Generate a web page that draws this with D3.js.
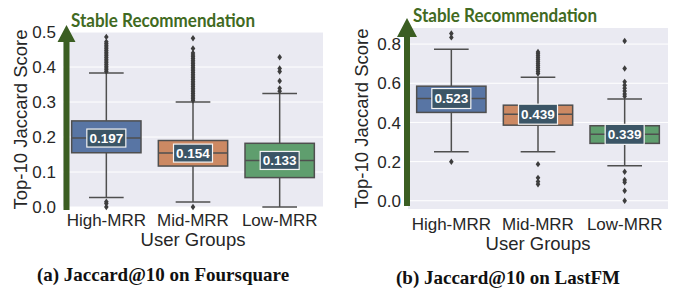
<!DOCTYPE html>
<html>
<head>
<meta charset="utf-8">
<script src="https://cdn.jsdelivr.net/npm/d3@7"></script>
<style>
  body { margin: 0; background: #fff; }
  svg text { font-family: "Liberation Sans", Arial, sans-serif; }
</style>
</head>
<body>
<svg id="chart" width="681" height="295"></svg>
<script>
// groups shared by both panels
const groups = ["High-MRR", "Mid-MRR", "Low-MRR"];
const boxColors = ["#5875a4", "#cc8963", "#5f9e6e"];

// Foursquare: [whiskerLow, q1, median, q3, whiskerHigh]
const fsqStats = [
  [0.027, 0.155, 0.197, 0.246, 0.383],
  [0.014, 0.117, 0.154, 0.190, 0.300],
  [0.0, 0.084, 0.133, 0.182, 0.324]
];
const fsqOutliers = [
  [0.0, 0.010, 0.015, 0.387, 0.392, 0.397, 0.402, 0.407, 0.412, 0.417, 0.422, 0.427, 0.432, 0.437,
   0.442, 0.447, 0.452, 0.457, 0.462, 0.467, 0.472, 0.486],
  [0.0, 0.304, 0.309, 0.314, 0.319, 0.324, 0.329, 0.334, 0.339, 0.344, 0.349, 0.354, 0.359, 0.364,
   0.369, 0.374, 0.379, 0.384, 0.389, 0.394, 0.399, 0.404, 0.409, 0.414, 0.419, 0.424, 0.429,
   0.434, 0.440, 0.453, 0.482],
  [0.331, 0.339, 0.360, 0.387, 0.396, 0.428]
];
const fsqLabels = ["0.197", "0.154", "0.133"];
const fsqTicks = [0.0, 0.1, 0.2, 0.3, 0.4, 0.5];

// LastFM
const lfmStats = [
  [0.250, 0.451, 0.522, 0.585, 0.774],
  [0.250, 0.386, 0.442, 0.488, 0.631],
  [0.179, 0.293, 0.339, 0.383, 0.519]
];
const lfmOutliers = [
  [0.199, 0.834, 0.854],
  [0.084, 0.098, 0.117, 0.187, 0.650, 0.660, 0.670, 0.680, 0.690, 0.700, 0.710, 0.720, 0.730,
   0.740, 0.750, 0.760],
  [0.0, 0.051, 0.094, 0.106, 0.148, 0.533, 0.545, 0.560, 0.575, 0.590, 0.607, 0.675, 0.816]
];
const lfmLabels = ["0.523", "0.439", "0.339"];
const lfmTicks = [0.0, 0.2, 0.4, 0.6, 0.8];

const svg = d3.select("#chart");

function drawPanel(p) {
  const x = d3.scaleBand().domain(groups).range([p.x0, p.x1]);
  const y = d3.scaleLinear().domain(p.domain).range([p.y1, p.y0]);
  const g = svg.append("g");

  // plot background + grid
  g.append("rect").attr("x", p.x0).attr("y", p.y0)
    .attr("width", p.x1 - p.x0).attr("height", p.y1 - p.y0).attr("fill", "#eaeaf2");
  g.selectAll(".grid").data(p.ticks).enter().append("line")
    .attr("x1", p.x0).attr("x2", p.x1)
    .attr("y1", d => y(d)).attr("y2", d => y(d))
    .attr("stroke", "#fff").attr("stroke-width", 1);

  // y tick labels
  g.selectAll(".ytick").data(p.ticks).enter().append("text")
    .attr("x", p.x0 - 7).attr("y", d => y(d)).attr("dy", "0.36em")
    .attr("text-anchor", "end").attr("font-size", 17).attr("fill", "#262626")
    .text(d => d.toFixed(1));

  // x tick labels
  g.selectAll(".xtick").data(groups).enter().append("text")
    .attr("x", d => x(d) + x.bandwidth() / 2).attr("y", p.xLabelY)
    .attr("text-anchor", "middle").attr("font-size", 17).attr("fill", "#262626")
    .text(d => d);

  g.append("text")
    .attr("x", (p.x0 + p.x1) / 2).attr("y", p.xTitleY)
    .attr("text-anchor", "middle").attr("font-size", 18.5).attr("fill", "#262626")
    .text("User Groups");

  g.append("text")
    .attr("transform", `translate(${p.yTitleX},${(p.y0 + p.y1) / 2}) rotate(-90)`)
    .attr("text-anchor", "middle").attr("dy", "0.35em").attr("font-size", 18.5).attr("fill", "#262626")
    .text("Top-10 Jaccard Score");

  const bw = x.bandwidth() * 0.8;
  const line = "#4f4f4f";

  groups.forEach((grp, i) => {
    const s = p.stats[i];
    const cx = x(grp) + x.bandwidth() / 2;
    const bg = g.append("g");
    // whiskers
    bg.append("line").attr("x1", cx).attr("x2", cx).attr("y1", y(s[0])).attr("y2", y(s[1]))
      .attr("stroke", line).attr("stroke-width", 1.5);
    bg.append("line").attr("x1", cx).attr("x2", cx).attr("y1", y(s[3])).attr("y2", y(s[4]))
      .attr("stroke", line).attr("stroke-width", 1.5);
    [s[0], s[4]].forEach(v => {
      bg.append("line").attr("x1", cx - bw / 4).attr("x2", cx + bw / 4)
        .attr("y1", y(v)).attr("y2", y(v)).attr("stroke", line).attr("stroke-width", 1.5);
    });
    // box
    bg.append("rect").attr("x", cx - bw / 2).attr("y", y(s[3]))
      .attr("width", bw).attr("height", y(s[1]) - y(s[3]))
      .attr("fill", boxColors[i]).attr("stroke", line).attr("stroke-width", 1.5);
    bg.append("line").attr("x1", cx - bw / 2).attr("x2", cx + bw / 2)
      .attr("y1", y(s[2])).attr("y2", y(s[2])).attr("stroke", line).attr("stroke-width", 1.5);
    // outliers as thin diamonds
    bg.selectAll(".out").data(p.outliers[i]).enter().append("path")
      .attr("d", d => `M${cx},${y(d) - 3.2}L${cx + 2.3},${y(d)}L${cx},${y(d) + 3.2}L${cx - 2.3},${y(d)}Z`)
      .attr("fill", "#3d3d3d");
    // median label
    const lw = 39, lh = p.labelH;
    bg.append("rect").attr("x", cx - lw / 2).attr("y", y(s[2]) - lh / 2)
      .attr("width", lw).attr("height", lh)
      .attr("fill", "#3b5566").attr("stroke", "#f4f4f4").attr("stroke-width", 1.2);
    bg.append("text").attr("x", cx).attr("y", y(s[2])).attr("dy", "0.36em")
      .attr("text-anchor", "middle").attr("font-size", 13.5).attr("font-weight", "bold")
      .attr("fill", "#fff").text(p.labels[i]);
  });

  // upward arrow
  const a = p.arrow;
  g.append("path")
    .attr("d", `M${a.x - 3},${a.bottom}L${a.x - 3},${a.base}L${a.x - a.half},${a.base}L${a.x},${a.tip}` +
      `L${a.x + a.half},${a.base}L${a.x + 3},${a.base}L${a.x + 3},${a.bottom}Z`)
    .attr("fill", "#3b5e22");
  g.append("text").attr("x", a.textX).attr("y", a.textY)
    .style("font-family", "Lato, 'Open Sans', sans-serif")
    .attr("font-size", 18).attr("font-weight", "bold").attr("fill", "#416a22")
    .attr("textLength", 184).attr("lengthAdjust", "spacingAndGlyphs")
    .text("Stable Recommendation");

  // caption
  g.append("text").attr("x", p.capX).attr("y", p.capY)
    .attr("text-anchor", "middle")
    .style("font-family", "'Liberation Serif', 'DejaVu Serif', serif")
    .attr("font-size", p.capSize).attr("font-weight", "bold").attr("fill", "#111")
    .text(p.caption);
}

drawPanel({
  x0: 63, x1: 323, y0: 32, y1: 207, domain: [0, 0.5],
  stats: fsqStats, outliers: fsqOutliers, labels: fsqLabels, ticks: fsqTicks,
  xLabelY: 226, xTitleY: 246, yTitleX: 21, labelH: 18,
  arrow: { x: 66.5, tip: 25, base: 42, half: 9, bottom: 210, textX: 71, textY: 27 },
  capX: 163, capY: 281, capSize: 19, caption: "(a) Jaccard@10 on Foursquare"
});

drawPanel({
  x0: 408, x1: 668, y0: 28, y1: 209, domain: [-0.042, 0.882],
  stats: lfmStats, outliers: lfmOutliers, labels: lfmLabels, ticks: lfmTicks,
  xLabelY: 230, xTitleY: 250, yTitleX: 362, labelH: 20,
  arrow: { x: 407, tip: 18, base: 37, half: 10, bottom: 206, textX: 413, textY: 22 },
  capX: 508, capY: 284, capSize: 19, caption: "(b) Jaccard@10 on LastFM"
});
</script>
</body>
</html>
